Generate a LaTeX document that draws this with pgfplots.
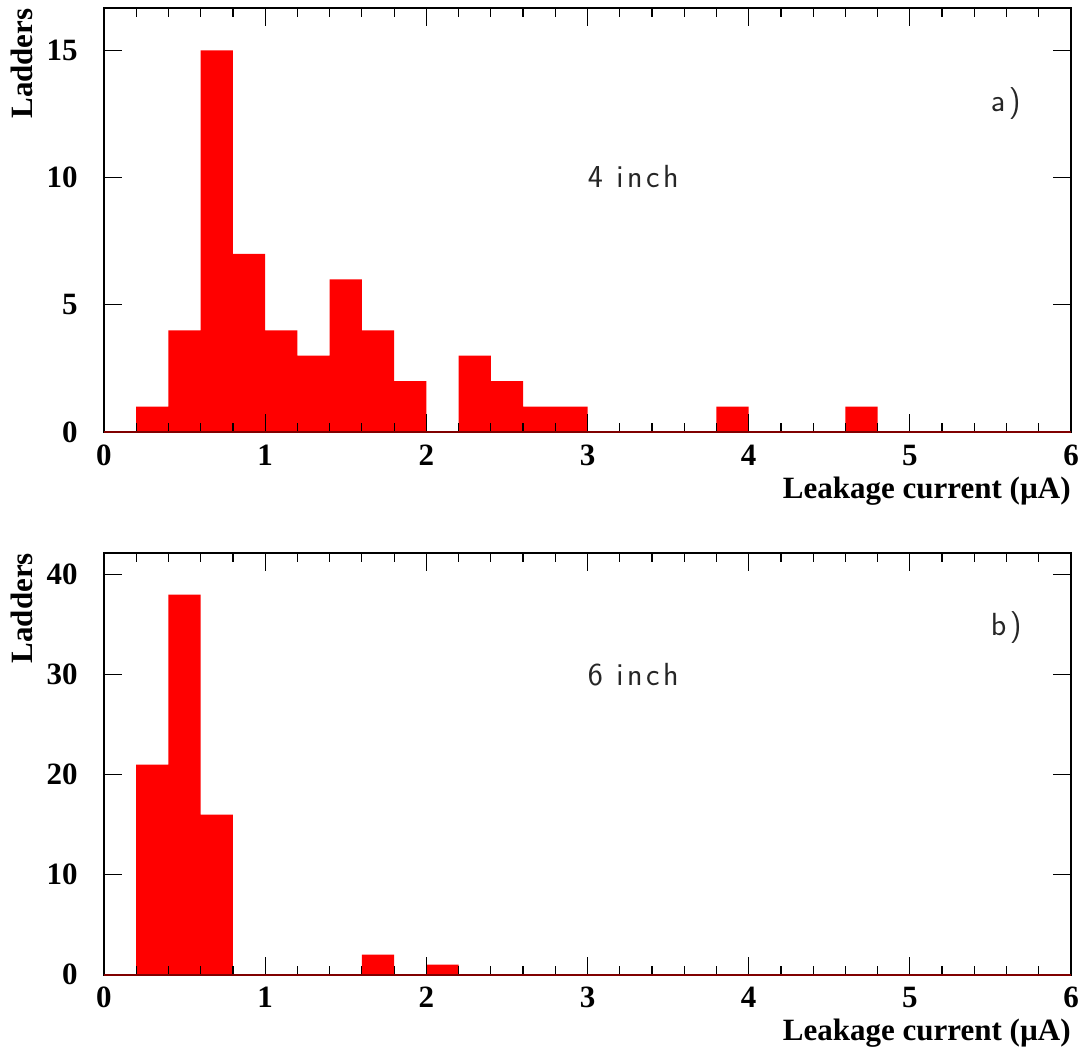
\documentclass[border=0pt]{standalone}
\usepackage{fontspec}
\setmainfont{Liberation Serif}
\newfontfamily\hershey{Latin Modern Sans}[LetterSpace=11]
\usepackage{pgfplots}
\pgfplotsset{compat=1.18}
\definecolor{histred}{RGB}{255,0,0}
\tikzset{note/.style={anchor=base west, inner sep=0pt, text=black!85,
    font=\hershey\fontsize{16}{19}\selectfont}}
\begin{document}
\begin{tikzpicture}
\path[use as bounding box] (-52pt,4pt) rectangle (491pt,-524.5pt);
\pgfplotsset{
  hist/.style={
    scale only axis, width=483.5pt,
    xmin=0, xmax=6, xtick={0,1,2,3,4,5,6}, minor x tick num=4,
    axis on top,
    axis line style={line width=1pt},
    major tick length=9pt, minor tick length=4.5pt,
    every tick/.style={black, line width=0.6pt},
    tick align=inside,
    xtick pos=both, ytick pos=both,
    xticklabel pos=lower, yticklabel pos=left,
    /pgf/number format/assume math mode=true,
    xticklabel style={anchor=base, inner sep=0pt, yshift=-16.5pt,
      font=\fontsize{15.5}{18}\selectfont\bfseries},
    yticklabel style={anchor=east, inner sep=0pt, xshift=-13pt,
      font=\fontsize{15.5}{18}\selectfont\bfseries},
  },
}
% ---------- top panel a) ----------
\begin{axis}[hist, name=top, at={(0pt,0pt)}, anchor=north west,
  height=212pt, ymin=0, ymax=16.67, ytick={0,5,10,15}]
\addplot[ybar interval, fill=histred, draw=none] coordinates {
 (0,0) (0.2,1) (0.4,4) (0.6,15) (0.8,7) (1.0,4) (1.2,3) (1.4,6) (1.6,4)
 (1.8,2) (2.0,0) (2.2,3) (2.4,2) (2.6,1) (2.8,1) (3.0,0) (3.2,0) (3.4,0)
 (3.6,0) (3.8,1) (4.0,0) (4.2,0) (4.4,0) (4.6,1) (4.8,0) (5.0,0) (5.2,0)
 (5.4,0) (5.6,0) (5.8,0) (6.0,0)};
\node[note] at (axis cs:3.0,9.6) {4 inch};
\node[note] at (axis cs:5.5,12.6) {a)};
\end{axis}
\draw[color=red!50!black, line width=1pt] (top.south west) -- (top.south east);
\node[rotate=90, anchor=base east, inner sep=0pt, font=\fontsize{15.5}{18}\selectfont\bfseries]
  at ([xshift=-35.5pt]top.north west) {Ladders};
\node[anchor=base east, inner sep=0pt, font=\fontsize{15.5}{18}\selectfont\bfseries]
  at ([yshift=-33pt]top.south east) {Leakage current (µA)};
% ---------- bottom panel b) ----------
\begin{axis}[hist, name=bot, at={(0pt,-272.35pt)}, anchor=north west,
  height=211pt, ymin=0, ymax=42.2, ytick={0,10,20,30,40}]
\addplot[ybar interval, fill=histred, draw=none] coordinates {
 (0,0) (0.2,21) (0.4,38) (0.6,16) (0.8,0) (1.0,0) (1.2,0) (1.4,0) (1.6,2)
 (1.8,0) (2.0,1) (2.2,0) (2.4,0) (2.6,0) (2.8,0) (3.0,0) (6.0,0)};
\node[note] at (axis cs:3.0,28.9) {6 inch};
\node[note] at (axis cs:5.5,33.9) {b)};
\end{axis}
\draw[color=red!50!black, line width=1pt] (bot.south west) -- (bot.south east);
\node[rotate=90, anchor=base east, inner sep=0pt, font=\fontsize{15.5}{18}\selectfont\bfseries]
  at ([xshift=-35.5pt]bot.north west) {Ladders};
\node[anchor=base east, inner sep=0pt, font=\fontsize{15.5}{18}\selectfont\bfseries]
  at ([yshift=-33pt]bot.south east) {Leakage current (µA)};
\end{tikzpicture}
\end{document}
